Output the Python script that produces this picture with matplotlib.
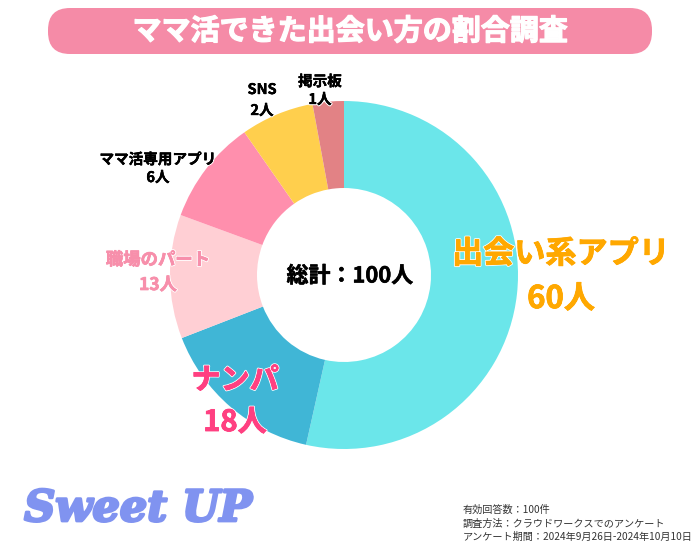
import matplotlib
matplotlib.use('Agg')
import matplotlib.pyplot as plt
import matplotlib.patheffects as pe
from matplotlib.patches import FancyBboxPatch

plt.rcParams['font.family'] = ['Noto Sans CJK JP', 'DejaVu Sans']

title = 'ママ活できた出会い方の割合調査'
categories = ['出会い系アプリ', 'ナンパ', '職場のパート', 'ママ活専用アプリ', 'SNS', '掲示板']
counts = [60, 18, 13, 6, 2, 1]
# slice sizes as drawn in the picture, they do not follow the counts
shares = [53.5, 15.6, 11.5, 9.7, 6.8, 2.9]
colors = ['#6BE6EA', '#40B6D6', '#FFCFD4', '#FF8FAD', '#FFCF4D', '#E28285']
total_label = '総計：100人'
notes = ['有効回答数：100件', '調査方法：クラウドワークスでのアンケート',
         'アンケート期間：2024年9月26日-2024年10月10日']
logo = 'Sweet UP'

name_pos = [(561, 254), (235, 380), (158, 260), (158, 159), (262, 89), (320, 81)]
count_pos = [(561, 299), (235, 422), (158, 285), (158, 177), (262, 110), (320, 99)]
label_size = [22.4, 21, 12.5, 10.5, 10.5, 10.5]
label_color = ['#FFA800', '#FF4081', '#F78FAB', 'black', 'black', 'black']
label_bold = [0.6, 0.6, 0.5, 0.25, 0.25, 0.25]

fig = plt.figure(figsize=(7, 5.5), dpi=100)

ax = fig.add_axes([0, 0, 1, 1], zorder=2)
ax.set_xlim(0, 700)
ax.set_ylim(550, 0)
ax.axis('off')

# donut
cx, cy, r = 344, 275, 174
pie_ax = fig.add_axes([(cx - r) / 700, (550 - cy - r) / 550, 2 * r / 700, 2 * r / 550], zorder=1)
pie_ax.pie(shares, colors=colors, startangle=90, counterclock=False, radius=1,
           wedgeprops=dict(width=0.5, linewidth=0))
pie_ax.set_xlim(-1, 1)
pie_ax.set_ylim(-1, 1)

# title banner
ax.add_patch(FancyBboxPatch((48, 8), 604, 46, boxstyle='round,pad=0,rounding_size=22',
                            fc='#F58BA7', ec='none'))
ax.text(350, 31, title, fontsize=20.9, fontweight='bold', color='white', ha='center', va='center',
        path_effects=[pe.withStroke(linewidth=0.9, foreground='white')])

for name, n, p1, p2, size, col, b in zip(categories, counts, name_pos, count_pos, label_size, label_color, label_bold):
    stroke = [pe.withStroke(linewidth=1.8, foreground='white'),
              pe.withStroke(linewidth=b, foreground=col)]
    ax.text(p1[0], p1[1], name, fontsize=size, fontweight='bold', color=col,
            ha='center', va='center', path_effects=stroke)
    ax.text(p2[0], p2[1], str(n) + '人', fontsize=size, fontweight='bold', color=col,
            ha='center', va='center', path_effects=stroke)

ax.text(350, 276, total_label, fontsize=15.8, fontweight='bold', color='black', ha='center', va='center',
        path_effects=[pe.withStroke(linewidth=0.4, foreground='black')])

# logo
ax.text(138, 509, logo, fontsize=31, family='DejaVu Serif', fontweight='bold', fontstyle='italic',
        color='#8093F0', ha='center', va='center',
        path_effects=[pe.withStroke(linewidth=2, foreground='#8093F0')])

for i, line in enumerate(notes):
    ax.text(463, 510 + i * 13.5, line, fontsize=7.3, color='#333333', ha='left', va='center')

fig.savefig('out.png', dpi=100)
